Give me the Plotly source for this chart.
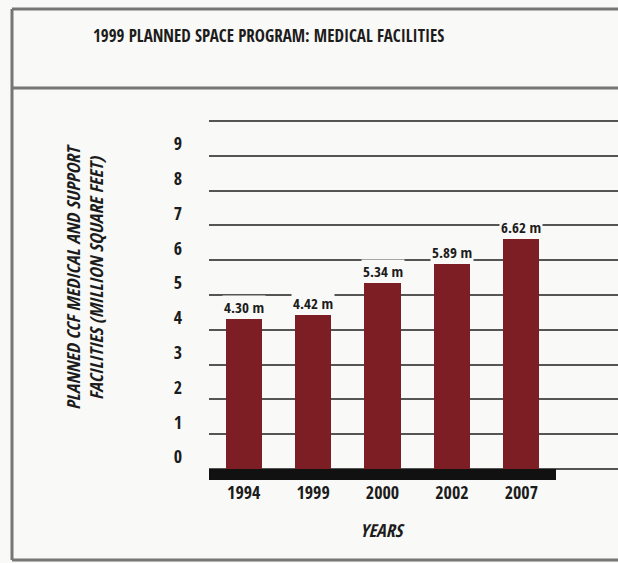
import plotly.graph_objects as go

# Chart data
years = ["1994", "1999", "2000", "2002", "2007"]
facilities_msf = [4.30, 4.42, 5.34, 5.89, 6.62]
y_ticks = [0, 1, 2, 3, 4, 5, 6, 7, 8, 9, 10]
y_tick_labels = ["0", "1", "2", "3", "4", "5", "6", "7", "8", "9", ""]

W, H = 618, 563
ML, MR, MT, MB = 209, 0, 100, 83
PW, PH = W - ML - MR, H - MT - MB

BG = "#f9f9f7"
BAR = "#7c1e24"
INK = "#1c1c1c"
FONT = "Open Sans Condensed, Roboto Condensed, sans-serif"

# baseline spans the five categories (x -0.5..4.5); gridlines run on to the right edge
BASE_RIGHT_PX = 556
CAT_PX = (BASE_RIGHT_PX - ML) / 5.0
X_MAX = 4.5 + (W - MR - BASE_RIGHT_PX) / CAT_PX

ZERO_PX = 469
UNIT_PX = 34.8


def px_x(px):
    return (px - ML) / PW


def px_y(py):
    return (H - MB - py) / PH


fig = go.Figure()
fig.add_trace(go.Bar(
    x=list(range(len(years))),
    y=facilities_msf,
    width=0.52,
    marker=dict(color=BAR, line=dict(width=0)),
    hoverinfo="skip",
))

# value labels above bars (background knocks out the gridline behind them)
for i, v in enumerate(facilities_msf):
    fig.add_annotation(
        x=i, y=v, xref="x", yref="y", text=f"<b>{v:.2f} m</b>",
        showarrow=False, xanchor="center", yanchor="bottom", yshift=0,
        bgcolor=BG, borderpad=1,
        font=dict(family=FONT, size=15, color=INK),
    )

shapes = [
    # heavy baseline under the bars
    dict(type="rect", xref="x", yref="y", x0=-0.5, x1=4.5, y0=0,
         y1=-(H - MB - ZERO_PX) / UNIT_PX,
         fillcolor="#111111", line=dict(width=0), layer="above"),
]
frame = dict(color="#767676", width=3)
shapes += [
    dict(type="line", xref="paper", yref="paper", x0=px_x(12), x1=px_x(620),
         y0=px_y(9), y1=px_y(9), line=frame),
    dict(type="line", xref="paper", yref="paper", x0=px_x(12), x1=px_x(620),
         y0=px_y(88), y1=px_y(88), line=frame),
    dict(type="line", xref="paper", yref="paper", x0=px_x(12), x1=px_x(620),
         y0=px_y(560), y1=px_y(560), line=frame),
    dict(type="line", xref="paper", yref="paper", x0=px_x(12), x1=px_x(12),
         y0=px_y(9), y1=px_y(560), line=frame),
]

annotations = [
    dict(xref="paper", yref="paper", x=px_x(268), y=px_y(35),
         xanchor="center", yanchor="middle",
         text="<b>1999 PLANNED SPACE PROGRAM: MEDICAL FACILITIES</b>",
         showarrow=False, font=dict(family=FONT, size=17, color=INK)),
    dict(xref="paper", yref="paper", x=px_x(84), y=px_y(277),
         xanchor="center", yanchor="middle",
         text="<b><i>PLANNED CCF MEDICAL AND SUPPORT<br>FACILITIES (MILLION SQUARE FEET)</i></b>",
         textangle=-90, showarrow=False,
         font=dict(family=FONT, size=18, color=INK)),
    dict(xref="x", yref="paper", x=2, y=px_y(530),
         xanchor="center", yanchor="middle",
         text="<b><i>YEARS</i></b>", showarrow=False,
         font=dict(family=FONT, size=18, color=INK)),
]

fig.update_layout(
    width=W, height=H,
    margin=dict(l=ML, r=MR, t=MT, b=MB),
    paper_bgcolor=BG, plot_bgcolor=BG,
    showlegend=False,
    bargap=0,
    shapes=shapes,
    annotations=fig.layout.annotations + tuple(annotations),
    xaxis=dict(
        range=[-0.5, X_MAX],
        tickmode="array", tickvals=list(range(len(years))), ticktext=years,
        showgrid=False, zeroline=False, showline=False, ticks="",
        tickfont=dict(family=FONT, size=18, color=INK, weight="bold"),
        ticklabelstandoff=0,
    ),
    yaxis=dict(
        range=[-(H - MB - ZERO_PX) / UNIT_PX, (ZERO_PX - MT) / UNIT_PX],
        tickmode="array", tickvals=y_ticks, ticktext=y_tick_labels,
        showgrid=True, gridcolor="#555555", gridwidth=1.5,
        zeroline=False, showline=False, ticks="",
        tickfont=dict(family=FONT, size=18, color=INK, weight="bold"),
        ticklabelstandoff=26, ticklabelshift=-12,
    ),
)

fig.write_html("out.html")
